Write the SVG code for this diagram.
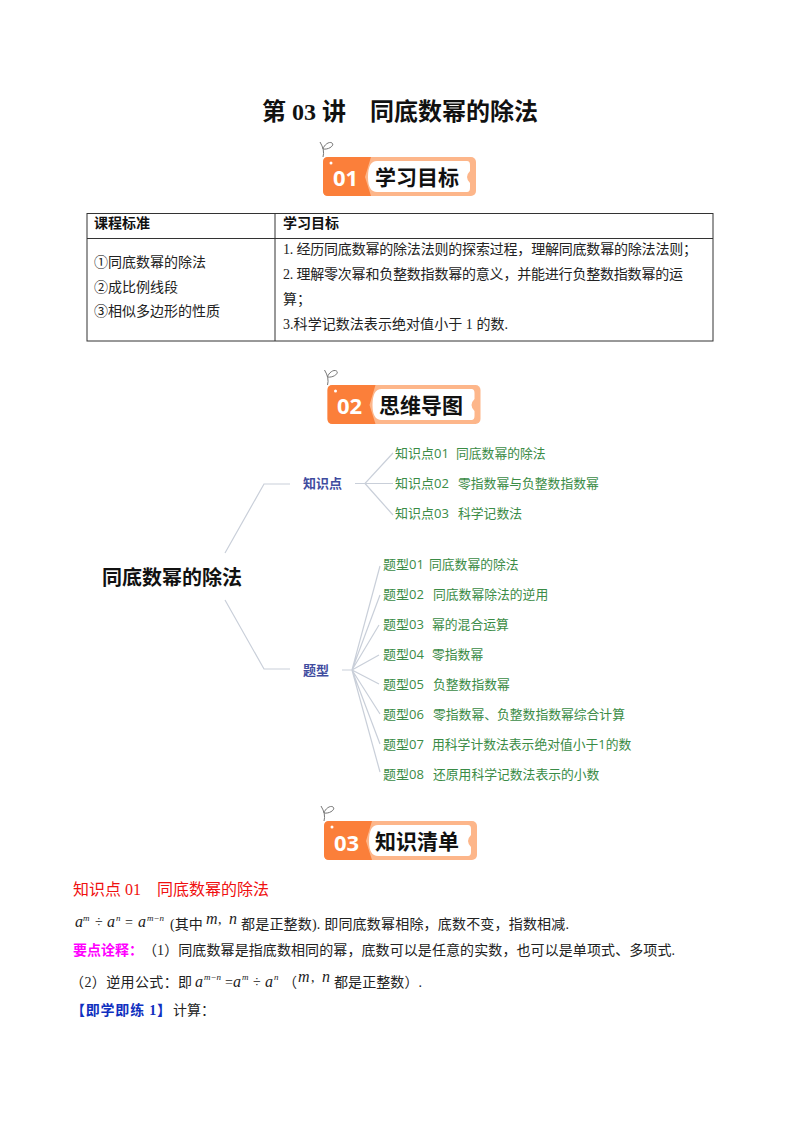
<svg xmlns="http://www.w3.org/2000/svg" width="800" height="1132" viewBox="0 0 800 1132">
<style>
text{font-family:"Liberation Serif","Noto Sans CJK SC",serif;fill:#222}
.t{font-size:14px}
.b{font-weight:700}
.bt{font-family:"Noto Sans CJK SC",sans-serif;font-size:21px;font-weight:700;fill:#111}
.bn{font-family:"Open Sans","Liberation Sans",sans-serif;font-size:22px;font-weight:700;fill:#fff}
.g{font-family:"Open Sans","Noto Sans CJK SC",sans-serif;font-size:13px;fill:#3a8b45}
.g tspan{font-size:12.800px}
.h{font-family:"Noto Sans CJK SC",sans-serif;font-size:13px;font-weight:700;fill:#3f4c9f}
.root{font-family:"Noto Sans CJK SC",sans-serif;font-size:20px;font-weight:700;fill:#111}
.m{font-style:italic;font-size:16px}
.s{font-style:italic;font-size:9px}
.c{fill:none;stroke:#c9cfd9;stroke-width:1.2}
.grid{fill:none;stroke:#333;stroke-width:1}
</style>
<defs>
<g id="badge">
<path d="M-3 -13 Q2 -5 0 2" fill="none" stroke="#777" stroke-width="1"/>
<path d="M0 -6 C6 -5 12 -10 9 -12 C6 -14 1 -10 0 -6Z" fill="none" stroke="#777" stroke-width="1"/>
<rect x="0" y="2" width="153" height="39" rx="5" fill="#fdb68a"/>
<path d="M5 2H48L42 22L48 41H5Q0 41 0 36V7Q0 2 5 2Z" fill="#fb7f3a"/>
<path d="M54 6H144Q147 6 147 10V16Q141 22 147 28V33Q147 37 144 37H54Q45 37 45 22Q45 6 54 6Z" fill="#fff"/>
<circle cx="8" cy="8" r="1.5" fill="#fff"/>
</g>
</defs>
<text x="400" y="120" text-anchor="middle" font-size="24" class="b" xml:space="preserve" style="fill:#111">第 03 讲　同底数幂的除法</text>
<g id="badge1"><use href="#badge" x="323" y="155"/><text class="bn" x="333" y="186">01</text><text class="bt" x="375" y="185">学习目标</text></g>
<g id="table">
<rect class="grid" x="87" y="213.500" width="626" height="127.500"/>
<path class="grid" d="M87 238.500H713M275 213.500V341"/>
<text class="t b" x="94" y="228" style="fill:#111">课程标准</text>
<text class="t b" x="283" y="228" style="fill:#111">学习目标</text>
<text class="t" x="94" y="267">①同底数幂的除法</text>
<text class="t" x="94" y="292">②成比例线段</text>
<text class="t" x="94" y="316">③相似多边形的性质</text>
<text class="t" x="283" y="254" textLength="414" lengthAdjust="spacing">1. 经历同底数幂的除法法则的探索过程，理解同底数幂的除法法则；</text>
<text class="t" x="283" y="279" textLength="400" lengthAdjust="spacing">2. 理解零次幂和负整数指数幂的意义，并能进行负整数指数幂的运</text>
<text class="t" x="283" y="304">算；</text>
<text class="t" x="283" y="329" textLength="225" lengthAdjust="spacing">3.科学记数法表示绝对值小于 1 的数.</text>
</g>
<g id="badge2"><use href="#badge" x="327.500" y="383"/><text class="bn" x="337" y="414">02</text><text class="bt" x="379" y="413">思维导图</text></g>
<g id="connectors">
<path class="c" d="M225 553L264 484H290M225 600L264 669H290"/>
<path class="c" d="M355 483.500H365L393 453M365 483.500H393M365 483.500L393 515"/>
<path class="c" d="M342 670H352L380 566M352 670L380 595M352 670L379 625M352 670L379 655M352 670L379 684M352 670L380 714M352 670L380 744M352 670L380 772"/>
</g>
<g id="root"><text class="root" x="102" y="585">同底数幂的除法</text></g>
<g id="n-zsd"><text class="h" x="303" y="488">知识点</text></g>
<g id="n-tx"><text class="h" x="303" y="675">题型</text></g>
<g id="k1"><text class="g" x="395" y="458">知识点01<tspan x="456">同底数幂的除法</tspan></text></g>
<g id="k2"><text class="g" x="395" y="488">知识点02<tspan x="458">零指数幂与负整数指数幂</tspan></text></g>
<g id="k3"><text class="g" x="395" y="518">知识点03<tspan x="458">科学记数法</tspan></text></g>
<g id="t1"><text class="g" x="383" y="569">题型01<tspan x="429">同底数幂的除法</tspan></text></g>
<g id="t2"><text class="g" x="383" y="599">题型02<tspan x="433">同底数幂除法的逆用</tspan></text></g>
<g id="t3"><text class="g" x="383" y="629">题型03<tspan x="432">幂的混合运算</tspan></text></g>
<g id="t4"><text class="g" x="383" y="659">题型04<tspan x="432">零指数幂</tspan></text></g>
<g id="t5"><text class="g" x="383" y="689">题型05<tspan x="433">负整数指数幂</tspan></text></g>
<g id="t6"><text class="g" x="383" y="719">题型06<tspan x="433">零指数幂、负整数指数幂综合计算</tspan></text></g>
<g id="t7"><text class="g" x="383" y="749">题型07<tspan x="432">用科学计数法表示绝对值小于1的数</tspan></text></g>
<g id="t8"><text class="g" x="383" y="779">题型08<tspan x="433">还原用科学记数法表示的小数</tspan></text></g>
<g id="badge3"><use href="#badge" x="324" y="819"/><text class="bn" x="334" y="851">03</text><text class="bt" x="375" y="849">知识清单</text></g>
<g id="body">
<text x="73" y="895" font-size="16" style="fill:#f01010">知识点 01<tspan x="157">同底数幂的除法</tspan></text>
<text class="m" x="75" y="927">a</text><text class="s" x="83" y="921">m</text><text class="t" x="95" y="927">÷</text><text class="m" x="107" y="927">a</text><text class="s" x="116" y="921">n</text><text class="t" x="125" y="927">=</text><text class="m" x="138" y="927">a</text><text class="s" x="147" y="921" xml:space="preserve">m−n</text>
<text class="t" x="170" y="929">(其中</text>
<text class="m" x="206" y="924">m</text><text class="t" x="218" y="924">,</text><text class="m" x="229" y="924">n</text>
<text class="t" x="241" y="929" textLength="328" lengthAdjust="spacing">都是正整数). 即同底数幂相除，底数不变，指数相减.</text>
<text class="t b" x="73" y="955" style="fill:#f0f">要点诠释：</text>
<text class="t" x="143" y="955" textLength="532" lengthAdjust="spacing">（1）同底数幂是指底数相同的幂，底数可以是任意的实数，也可以是单项式、多项式.</text>
<text class="t" x="70" y="987" textLength="122" lengthAdjust="spacing">（2）逆用公式：即</text>
<text class="m" x="195" y="987">a</text><text class="s" x="204" y="980" xml:space="preserve">m−n</text><text class="t" x="225" y="987">=</text><text class="m" x="233" y="987">a</text><text class="s" x="242" y="980">m</text><text class="t" x="253" y="987">÷</text><text class="m" x="265" y="987">a</text><text class="s" x="274" y="980">n</text>
<text class="t" x="283" y="987">（</text>
<text class="m" x="298" y="982">m</text><text class="t" x="311" y="982">,</text><text class="m" x="322" y="982">n</text>
<text class="t" x="334" y="987" textLength="88" lengthAdjust="spacing">都是正整数）.</text>
<text class="t b" x="71" y="1015" style="fill:#1030c0" textLength="100" lengthAdjust="spacing">【即学即练 1】</text><text class="t" x="173" y="1015">计算：</text>
</g>
</svg>
